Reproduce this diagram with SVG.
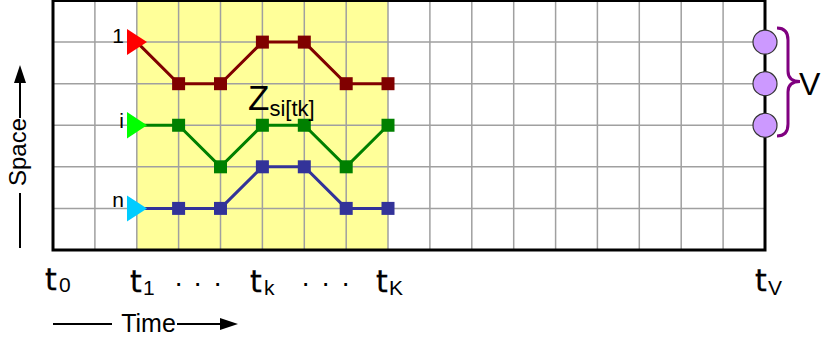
<svg xmlns="http://www.w3.org/2000/svg" width="822" height="340" viewBox="0 0 822 340">
<style>
.grid{stroke:#a0a0a0;stroke-width:1.5;fill:none}
.box{stroke:#000;stroke-width:3;fill:none}
.lbl{font-family:"Liberation Sans",Arial,sans-serif;fill:#000}
.tt{font-family:"DejaVu Sans","Liberation Sans",sans-serif;font-size:30px;stroke:#000;stroke-width:0.3}
.sub{font-family:"Liberation Sans",Arial,sans-serif;font-size:21px}
.pr{fill:none;stroke:#800000;stroke-width:3}
.pg{fill:none;stroke:#008000;stroke-width:3}
.pb{fill:none;stroke:#333399;stroke-width:3}
.circ{fill:#cc99ff;stroke:#333;stroke-width:1.2}
</style>
<defs>
<marker id="ah" viewBox="0 0 18 12" refX="0" refY="6" markerWidth="18" markerHeight="12" markerUnits="userSpaceOnUse" orient="auto"><path d="M0,0 L18,6 L0,12 Z" fill="#000"/></marker>
<rect id="sqr" x="-6.5" y="-6.5" width="13" height="13" fill="#800000"/>
<rect id="sqg" x="-6.5" y="-6.5" width="13" height="13" fill="#008000"/>
<rect id="sqb" x="-6.5" y="-6.5" width="13" height="13" fill="#333399"/>
</defs>
<g id="grid">
<rect x="136.8" y="0.5" width="251.2" height="249.5" fill="#ffff99"/>
<path class="grid" d="M94.9,0.5V250M136.8,0.5V250M178.6,0.5V250M220.5,0.5V250M262.4,0.5V250M304.3,0.5V250M346.2,0.5V250M388,0.5V250M429.9,0.5V250M471.8,0.5V250M513.7,0.5V250M555.6,0.5V250M597.4,0.5V250M639.3,0.5V250M681.2,0.5V250M723.1,0.5V250M53,42.1H765M53,83.7H765M53,125.25H765M53,166.8H765M53,208.4H765"/>
<rect class="box" x="53" y="0.5" width="712" height="249.5"/>
</g>
<g id="connectors">
<polyline class="pr" points="136.8,42.1 178.6,83.7 220.5,83.7 262.4,42.1 304.3,42.1 346.2,83.7 388,83.7"/>
<polyline class="pg" points="136.8,125.25 178.6,125.25 220.5,166.8 262.4,125.25 304.3,125.25 346.2,166.8 388,125.25"/>
<polyline class="pb" points="136.8,208.4 178.6,208.4 220.5,208.4 262.4,166.8 304.3,166.8 346.2,208.4 388,208.4"/>
</g>
<g id="path-1">
<polygon points="127,29 147,42.1 127,55" fill="#ff0000"/>
<use href="#sqr" x="178.6" y="83.7"/><use href="#sqr" x="220.5" y="83.7"/><use href="#sqr" x="262.4" y="42.1"/><use href="#sqr" x="304.3" y="42.1"/><use href="#sqr" x="346.2" y="83.7"/><use href="#sqr" x="388" y="83.7"/>
<text class="lbl" x="124" y="43" font-size="21" text-anchor="end">1</text>
</g>
<g id="path-i">
<polygon points="127,112 147,125.25 127,138.5" fill="#00ff00"/>
<use href="#sqg" x="178.6" y="125.25"/><use href="#sqg" x="220.5" y="166.8"/><use href="#sqg" x="262.4" y="125.25"/><use href="#sqg" x="304.3" y="125.25"/><use href="#sqg" x="346.2" y="166.8"/><use href="#sqg" x="388" y="125.25"/>
<text class="lbl" x="124" y="128" font-size="21" text-anchor="end">i</text>
</g>
<g id="path-n">
<polygon points="127,195.4 147,208.4 127,221.4" fill="#00ccff"/>
<use href="#sqb" x="178.6" y="208.4"/><use href="#sqb" x="220.5" y="208.4"/><use href="#sqb" x="262.4" y="166.8"/><use href="#sqb" x="304.3" y="166.8"/><use href="#sqb" x="346.2" y="208.4"/><use href="#sqb" x="388" y="208.4"/>
<text class="lbl" x="124" y="207" font-size="21" text-anchor="end">n</text>
</g>
<g id="z-label">
<text class="lbl" x="248" y="110" font-size="35">Z<tspan font-size="22" dy="5.5">si[tk]</tspan></text>
</g>
<g id="v-nodes">
<circle class="circ" cx="765" cy="42.1" r="12"/>
<circle class="circ" cx="765" cy="83.7" r="12"/>
<circle class="circ" cx="765" cy="125.25" r="12"/>
<path d="M777,28 Q788,28 788,40 L788,71 Q788,81.5 800,81.5 Q788,81.5 788,92 L788,124 Q788,136 777,136" fill="none" stroke="#800080" stroke-width="3"/>
<text class="lbl" x="799" y="95" font-size="32">V</text>
</g>
<g id="time-labels" class="lbl">
<text><tspan class="tt" x="45" y="290">t</tspan><tspan class="sub" x="59" y="292">0</tspan></text>
<text><tspan class="tt" x="130" y="292">t</tspan><tspan class="sub" x="143" y="295">1</tspan></text>
<text font-size="28"><tspan x="174" y="292">·</tspan><tspan x="193" y="292">·</tspan><tspan x="213" y="292">·</tspan></text>
<text><tspan class="tt" x="250" y="292">t</tspan><tspan class="sub" x="264" y="295">k</tspan></text>
<text font-size="28"><tspan x="301" y="292">·</tspan><tspan x="321" y="292">·</tspan><tspan x="341" y="292">·</tspan></text>
<text><tspan class="tt" x="376" y="292">t</tspan><tspan class="sub" x="389" y="295">K</tspan></text>
<text><tspan class="tt" x="755" y="291">t</tspan><tspan class="sub" x="768" y="295">V</tspan></text>
</g>
<g id="axes">
<line x1="53" y1="324" x2="112" y2="324" stroke="#000" stroke-width="2"/>
<text class="lbl" x="148.5" y="332" font-size="25" text-anchor="middle">Time</text>
<line x1="177" y1="324" x2="220" y2="324" stroke="#000" stroke-width="2" marker-end="url(#ah)"/>
<line x1="20" y1="248" x2="20" y2="193" stroke="#000" stroke-width="2"/>
<text class="lbl" transform="translate(26,152) rotate(-90)" x="0" y="0" font-size="24" text-anchor="middle">Space</text>
<line x1="20" y1="118" x2="20" y2="83" stroke="#000" stroke-width="2" marker-end="url(#ah)"/>
</g>
</svg>
